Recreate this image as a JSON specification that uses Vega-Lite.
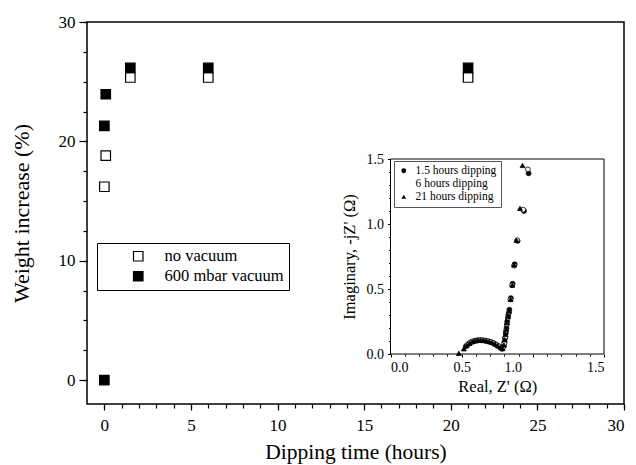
{
  "$schema": "https://vega.github.io/schema/vega-lite/v6.json",
  "width": 537,
  "height": 382,
  "autosize": {"type": "none"},
  "padding": {"left": 87, "top": 22, "right": 12, "bottom": 61},
  "background": "white",
  "config": {
    "view": {"stroke": "black", "strokeWidth": 1.5},
    "font": "Liberation Serif",
    "axis": {
      "labelFont": "Liberation Serif",
      "titleFont": "Liberation Serif",
      "labelColor": "black",
      "titleColor": "black",
      "tickColor": "black",
      "domainColor": "black",
      "grid": false,
      "titleFontWeight": "normal",
      "tickWidth": 1.2
    },
    "legend": {"labelFont": "Liberation Serif", "labelColor": "black"}
  },
  "layer": [
    {
      "data": {
        "values": [
          {"hours": 0, "weight": 16.2, "condition": "no vacuum"},
          {"hours": 0.083, "weight": 18.8, "condition": "no vacuum"},
          {"hours": 1.5, "weight": 25.35, "condition": "no vacuum"},
          {"hours": 6, "weight": 25.35, "condition": "no vacuum"},
          {"hours": 21, "weight": 25.35, "condition": "no vacuum"},
          {"hours": 0, "weight": 0, "condition": "600 mbar vacuum"},
          {"hours": 0, "weight": 21.3, "condition": "600 mbar vacuum"},
          {"hours": 0.083, "weight": 23.95, "condition": "600 mbar vacuum"},
          {"hours": 1.5, "weight": 26.15, "condition": "600 mbar vacuum"},
          {"hours": 6, "weight": 26.15, "condition": "600 mbar vacuum"},
          {"hours": 21, "weight": 26.15, "condition": "600 mbar vacuum"}
        ]
      },
      "mark": {"type": "point", "shape": "square", "size": 90, "stroke": "black", "strokeWidth": 1.2, "opacity": 1},
      "encoding": {
        "x": {
          "field": "hours", "type": "quantitative",
          "scale": {"domain": [-1, 30], "nice": false, "zero": false},
          "axis": {"orient": "bottom", "values": [0, 5, 10, 15, 20, 25, 30], "tickSize": 6, "labelFontSize": 17, "labelPadding": 7, "domain": false, "title": "Dipping time (hours)", "titleFontSize": 21.5, "titlePadding": 8.5}
        },
        "y": {
          "field": "weight", "type": "quantitative",
          "scale": {"domain": [-2, 30], "nice": false, "zero": false},
          "axis": {"orient": "left", "values": [0, 10, 20, 30], "tickSize": 8, "labelFontSize": 17, "labelPadding": 4, "domain": false, "title": "Weight increase (%)", "titleFontSize": 22, "titlePadding": 25}
        },
        "fill": {
          "field": "condition", "type": "nominal",
          "scale": {"domain": ["no vacuum", "600 mbar vacuum"], "range": ["white", "black"]},
          "legend": {
            "orient": "none", "legendX": 10, "legendY": 221, "title": null,
            "strokeColor": "black", "fillColor": "white", "padding": 5,
            "symbolType": "square", "symbolSize": 90, "symbolStrokeColor": "black", "symbolStrokeWidth": 1.2,
            "symbolOffset": 28, "labelOffset": 18, "labelFontSize": 16.5, "rowPadding": 3,
            "labelExpr": "datum.label + '\u00a0\u00a0\u00a0\u00a0'"
          }
        }
      }
    },
    {
      "data": {"values": [{"t": 0, "w": 0}]},
      "mark": {"type": "point", "opacity": 0},
      "encoding": {
        "x": {
          "field": "t", "type": "quantitative",
          "scale": {"domain": [-1, 30], "nice": false, "zero": false},
          "axis": {"orient": "bottom", "values": [0,1,2,3,4,5,6,7,8,9,10,11,12,13,14,15,16,17,18,19,20,21,22,23,24,25,26,27,28,29,30], "tickSize": 4, "labels": false, "domain": false, "title": null}
        },
        "y": {
          "field": "w", "type": "quantitative",
          "scale": {"domain": [-2, 30], "nice": false, "zero": false},
          "axis": {"orient": "left", "values": [0,2.5,5,7.5,10,12.5,15,17.5,20,22.5,25,27.5,30], "tickSize": 4, "labels": false, "domain": false, "title": null}
        }
      }
    },
    {
      "data": {"values": [{"t": 0, "w": 0}]},
      "mark": {"type": "point", "opacity": 0},
      "encoding": {
        "x": {
          "field": "t", "type": "quantitative",
          "scale": {"domain": [0, 1.5], "nice": false, "zero": false, "range": [303.5, 517]},
          "axis": {"orient": "bottom", "offset": -50, "values": [0.1,0.2,0.3,0.4,0.6,0.7,0.8,0.9,1.1,1.2,1.3,1.4], "tickSize": 2, "tickWidth": 1, "labels": false, "domain": false, "title": null}
        },
        "y": {
          "field": "w", "type": "quantitative",
          "scale": {"domain": [0, 1.5], "nice": false, "zero": false, "range": [332, 137]},
          "axis": {"orient": "left", "offset": -303.5, "values": [0.1,0.2,0.3,0.4,0.6,0.7,0.8,0.9,1.1,1.2,1.3,1.4], "tickSize": 2, "tickWidth": 1, "labels": false, "domain": false, "title": null}
        }
      }
    },
    {
      "layer": [
        {
          "data": {"values": [{"frame": 1}]},
          "mark": {"type": "rect", "fill": "white", "stroke": "black", "strokeWidth": 1},
          "encoding": {
            "x": {
              "datum": 0, "type": "quantitative",
              "scale": {"domain": [0, 1.5], "nice": false, "zero": false, "range": [303.5, 517]},
              "axis": {"orient": "bottom", "offset": -50, "values": [0, 0.5, 1, 1.5], "format": ".1f", "tickSize": 3, "tickWidth": 1, "labelFontSize": 14, "labelPadding": 3, "domain": false,
                "labelOffset": {"condition": {"test": "datum.value == 1", "value": -20}, "value": 0},
                "title": "Real, Z' (Ω)", "titleFontSize": 16.5, "titlePadding": 4}
            },
            "x2": {"datum": 1.5},
            "y": {
              "datum": 0, "type": "quantitative",
              "scale": {"domain": [0, 1.5], "nice": false, "zero": false, "range": [332, 137]},
              "axis": {"orient": "left", "offset": -303.5, "values": [0, 0.5, 1, 1.5], "format": ".1f", "tickSize": 3, "tickWidth": 1, "labelFontSize": 14, "labelPadding": 4, "domain": false,
                "title": "Imaginary, -jZ' (Ω)", "titleFontSize": 16.5, "titlePadding": 9}
            },
            "y2": {"datum": 1.5}
          }
        },
        {
          "data": {
            "values": [
              {"re": 0.53, "im": 0.06, "series": "1.5 hours dipping"},
              {"re": 0.55, "im": 0.08, "series": "1.5 hours dipping"},
              {"re": 0.57, "im": 0.093, "series": "1.5 hours dipping"},
              {"re": 0.59, "im": 0.1, "series": "1.5 hours dipping"},
              {"re": 0.61, "im": 0.105, "series": "1.5 hours dipping"},
              {"re": 0.63, "im": 0.106, "series": "1.5 hours dipping"},
              {"re": 0.65, "im": 0.105, "series": "1.5 hours dipping"},
              {"re": 0.67, "im": 0.102, "series": "1.5 hours dipping"},
              {"re": 0.69, "im": 0.097, "series": "1.5 hours dipping"},
              {"re": 0.71, "im": 0.09, "series": "1.5 hours dipping"},
              {"re": 0.73, "im": 0.08, "series": "1.5 hours dipping"},
              {"re": 0.75, "im": 0.066, "series": "1.5 hours dipping"},
              {"re": 0.77, "im": 0.052, "series": "1.5 hours dipping"},
              {"re": 0.785, "im": 0.04, "series": "1.5 hours dipping"},
              {"re": 0.795, "im": 0.06, "series": "1.5 hours dipping"},
              {"re": 0.8, "im": 0.09, "series": "1.5 hours dipping"},
              {"re": 0.805, "im": 0.12, "series": "1.5 hours dipping"},
              {"re": 0.81, "im": 0.16, "series": "1.5 hours dipping"},
              {"re": 0.815, "im": 0.2, "series": "1.5 hours dipping"},
              {"re": 0.82, "im": 0.25, "series": "1.5 hours dipping"},
              {"re": 0.828, "im": 0.3, "series": "1.5 hours dipping"},
              {"re": 0.835, "im": 0.34, "series": "1.5 hours dipping"},
              {"re": 0.846, "im": 0.43, "series": "1.5 hours dipping"},
              {"re": 0.858, "im": 0.54, "series": "1.5 hours dipping"},
              {"re": 0.872, "im": 0.69, "series": "1.5 hours dipping"},
              {"re": 0.893, "im": 0.87, "series": "1.5 hours dipping"},
              {"re": 0.938, "im": 1.1, "series": "1.5 hours dipping"},
              {"re": 0.97, "im": 1.39, "series": "1.5 hours dipping"},
              {"re": 0.54, "im": 0.07, "series": "6 hours dipping"},
              {"re": 0.56, "im": 0.088, "series": "6 hours dipping"},
              {"re": 0.58, "im": 0.097, "series": "6 hours dipping"},
              {"re": 0.6, "im": 0.103, "series": "6 hours dipping"},
              {"re": 0.62, "im": 0.106, "series": "6 hours dipping"},
              {"re": 0.64, "im": 0.106, "series": "6 hours dipping"},
              {"re": 0.66, "im": 0.104, "series": "6 hours dipping"},
              {"re": 0.68, "im": 0.1, "series": "6 hours dipping"},
              {"re": 0.7, "im": 0.094, "series": "6 hours dipping"},
              {"re": 0.72, "im": 0.086, "series": "6 hours dipping"},
              {"re": 0.74, "im": 0.074, "series": "6 hours dipping"},
              {"re": 0.76, "im": 0.06, "series": "6 hours dipping"},
              {"re": 0.78, "im": 0.045, "series": "6 hours dipping"},
              {"re": 0.79, "im": 0.05, "series": "6 hours dipping"},
              {"re": 0.8, "im": 0.08, "series": "6 hours dipping"},
              {"re": 0.807, "im": 0.13, "series": "6 hours dipping"},
              {"re": 0.812, "im": 0.18, "series": "6 hours dipping"},
              {"re": 0.818, "im": 0.23, "series": "6 hours dipping"},
              {"re": 0.825, "im": 0.28, "series": "6 hours dipping"},
              {"re": 0.832, "im": 0.32, "series": "6 hours dipping"},
              {"re": 0.843, "im": 0.42, "series": "6 hours dipping"},
              {"re": 0.855, "im": 0.53, "series": "6 hours dipping"},
              {"re": 0.869, "im": 0.68, "series": "6 hours dipping"},
              {"re": 0.89, "im": 0.875, "series": "6 hours dipping"},
              {"re": 0.932, "im": 1.11, "series": "6 hours dipping"},
              {"re": 0.965, "im": 1.42, "series": "6 hours dipping"},
              {"re": 0.48, "im": 0.005, "series": "21 hours dipping"},
              {"re": 0.515, "im": 0.04, "series": "21 hours dipping"},
              {"re": 0.535, "im": 0.065, "series": "21 hours dipping"},
              {"re": 0.555, "im": 0.082, "series": "21 hours dipping"},
              {"re": 0.575, "im": 0.095, "series": "21 hours dipping"},
              {"re": 0.595, "im": 0.102, "series": "21 hours dipping"},
              {"re": 0.615, "im": 0.106, "series": "21 hours dipping"},
              {"re": 0.635, "im": 0.107, "series": "21 hours dipping"},
              {"re": 0.655, "im": 0.105, "series": "21 hours dipping"},
              {"re": 0.675, "im": 0.101, "series": "21 hours dipping"},
              {"re": 0.695, "im": 0.095, "series": "21 hours dipping"},
              {"re": 0.715, "im": 0.088, "series": "21 hours dipping"},
              {"re": 0.735, "im": 0.077, "series": "21 hours dipping"},
              {"re": 0.755, "im": 0.063, "series": "21 hours dipping"},
              {"re": 0.775, "im": 0.048, "series": "21 hours dipping"},
              {"re": 0.788, "im": 0.042, "series": "21 hours dipping"},
              {"re": 0.797, "im": 0.07, "series": "21 hours dipping"},
              {"re": 0.803, "im": 0.11, "series": "21 hours dipping"},
              {"re": 0.808, "im": 0.15, "series": "21 hours dipping"},
              {"re": 0.813, "im": 0.19, "series": "21 hours dipping"},
              {"re": 0.818, "im": 0.24, "series": "21 hours dipping"},
              {"re": 0.826, "im": 0.29, "series": "21 hours dipping"},
              {"re": 0.833, "im": 0.33, "series": "21 hours dipping"},
              {"re": 0.844, "im": 0.42, "series": "21 hours dipping"},
              {"re": 0.856, "im": 0.53, "series": "21 hours dipping"},
              {"re": 0.868, "im": 0.685, "series": "21 hours dipping"},
              {"re": 0.885, "im": 0.875, "series": "21 hours dipping"},
              {"re": 0.91, "im": 1.12, "series": "21 hours dipping"},
              {"re": 0.928, "im": 1.45, "series": "21 hours dipping"}
            ]
          },
          "mark": {"type": "point", "size": 24, "stroke": "black", "strokeWidth": 0.8, "opacity": 1},
          "encoding": {
            "x": {"field": "re", "type": "quantitative"},
            "y": {"field": "im", "type": "quantitative"},
            "shape": {
              "field": "series", "type": "nominal",
              "scale": {"domain": ["1.5 hours dipping", "6 hours dipping", "21 hours dipping"], "range": ["circle", "circle", "triangle-up"]},
              "legend": {
                "orient": "none", "legendX": 307, "legendY": 139, "title": null,
                "strokeColor": "#555", "fillColor": "white", "padding": 4,
                "symbolSize": 24, "symbolStrokeColor": "black", "symbolStrokeWidth": 1,
                "labelOffset": 6, "labelFontSize": 11.5, "rowPadding": 0,
                "labelExpr": "datum.label == '6 hours dipping' ? '\u00a0\u00a0\u00a0\u00a06 hours dipping' : datum.label"
              }
            },
            "fill": {
              "field": "series", "type": "nominal",
              "scale": {"domain": ["1.5 hours dipping", "6 hours dipping", "21 hours dipping"], "range": ["black", "white", "black"]},
              "legend": {
                "orient": "none", "legendX": 307, "legendY": 139, "title": null,
                "strokeColor": "#555", "fillColor": "white", "padding": 4,
                "symbolSize": 24, "symbolStrokeColor": "black", "symbolStrokeWidth": 1,
                "labelOffset": 6, "labelFontSize": 11.5, "rowPadding": 0,
                "labelExpr": "datum.label == '6 hours dipping' ? '\u00a0\u00a0\u00a0\u00a06 hours dipping' : datum.label"
              }
            }
          }
        }
      ]
    }
  ],
  "resolve": {
    "scale": {"x": "independent", "y": "independent", "fill": "independent", "shape": "independent"},
    "axis": {"x": "independent", "y": "independent"},
    "legend": {"fill": "independent", "shape": "independent"}
  }
}
